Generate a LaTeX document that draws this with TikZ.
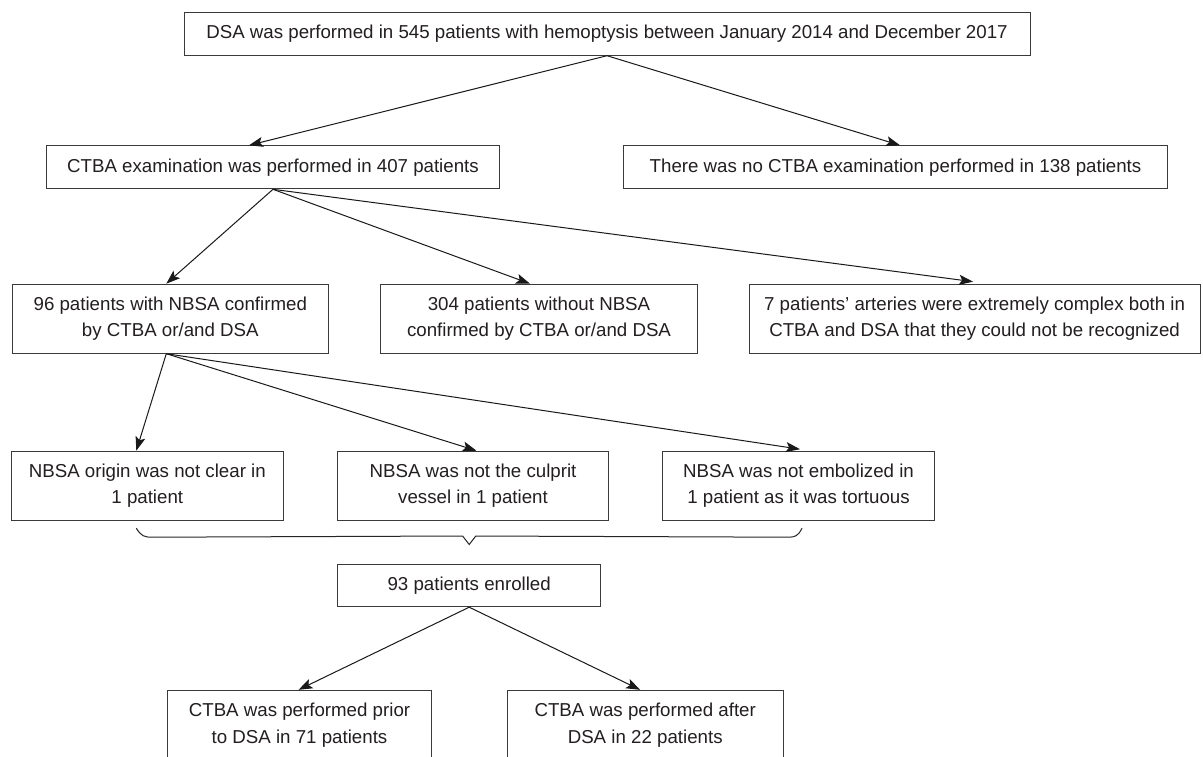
\documentclass[tikz,border=0pt]{standalone}
\usepackage{fontspec}
\setmainfont{Liberation Sans}
\usetikzlibrary{arrows.meta}
\definecolor{txt}{HTML}{231F20}
\definecolor{bord}{HTML}{3A3A3A}
\begin{document}
\begin{tikzpicture}[x=1pt,y=-1pt,
  box/.style={draw=bord,line width=1pt,inner sep=0pt,align=center,text=txt,
    font=\fontsize{18.7}{26.9}\selectfont},
  onebox/.style={box,minimum height=43pt},
  twobox/.style={box,minimum height=69pt},
  arr/.style={draw=black!90,line width=1pt,-{Stealth[length=14pt,width=10pt,inset=3pt]}},
  brace/.style={draw=black!85,line width=1pt}]
\useasboundingbox (0,0) rectangle (1203,756);
\clip (0,0) rectangle (1203,756);
\fill[white] (0,0) rectangle (1203,756);

\node[onebox,minimum width=846pt] (top) at (607,33.7) {DSA was performed in 545 patients with hemoptysis between January 2014 and December 2017};
\node[onebox,minimum width=453pt] (ctba) at (273,167.3) {CTBA examination was performed in 407 patients};
\node[onebox,minimum width=543.5pt] (noctba) at (895.5,167.3) {There was no CTBA examination performed in 138 patients};

\node[twobox,minimum width=316pt] (n96) at (170.3,318.7) {96 patients with NBSA confirmed\\by CTBA or/and DSA};
\node[twobox,minimum width=316.5pt] (n304) at (539,318.7) {304 patients without NBSA\\confirmed by CTBA or/and DSA};
\node[twobox,minimum width=451pt] (n7) at (974.6,318.7) {7 patients’ arteries were extremely complex both in\\CTBA and DSA that they could not be recognized};

\node[twobox,minimum width=271.7pt] (orig) at (147.3,485.7) {NBSA origin was not clear in\\1 patient};
\node[twobox,minimum width=271pt] (culp) at (473,485.7) {NBSA was not the culprit\\vessel in 1 patient};
\node[twobox,minimum width=271.5pt] (emb) at (798.5,485.7) {NBSA was not embolized in\\1 patient as it was tortuous};

\node[box,minimum width=263.5pt,minimum height=42.4pt] (enr) at (469.2,585.5) {93 patients enrolled};

\node[twobox,minimum width=264.4pt] (prior) at (299.5,724.8) {CTBA was performed prior\\to DSA in 71 patients};
\node[twobox,minimum width=275.7pt] (after) at (645.2,724.8) {CTBA was performed after\\DSA in 22 patients};

% connectors
\draw[arr] (top.south) -- ([xshift=-24pt]ctba.north);
\draw[arr] (top.south) -- ([xshift=4.5pt]noctba.north);

\draw[arr] (ctba.south) -- ([xshift=-4pt]n96.north);
\draw[arr] (ctba.south) -- ([xshift=-9pt]n304.north);
\draw[arr] (ctba.south) -- ([xshift=-1.5pt,yshift=2pt]n7.north);

\draw[arr] ([xshift=-4pt]n96.south) -- ([xshift=-11pt]orig.north);
\draw[arr] ([xshift=-4pt]n96.south) -- ([xshift=3.5pt]culp.north);
\draw[arr] ([xshift=-4pt]n96.south) -- ([xshift=1.5pt,yshift=1.5pt]emb.north);

\draw[arr] (enr.south) -- ([xshift=-1pt]prior.north);
\draw[arr] (enr.south) -- ([xshift=-5pt]after.north);

% brace
\coordinate (bl) at ([xshift=-11pt,yshift=-7.5pt]orig.south);
\coordinate (br) at ([xshift=3.5pt,yshift=-7.5pt]emb.south);
\coordinate (bt) at ([yshift=19.3pt]enr.north);
\draw[brace] (bl) .. controls ([xshift=5pt,yshift=-8pt]bl) and ([xshift=8pt,yshift=-9pt]bl) .. ([xshift=16pt,yshift=-9pt]bl)
  -- ([xshift=-6.6pt,yshift=8.5pt]bt) -- (bt) -- ([xshift=6.6pt,yshift=8.5pt]bt)
  -- ([xshift=-14pt,yshift=-9pt]br) .. controls ([xshift=-7pt,yshift=-9pt]br) and ([xshift=-4pt,yshift=-8pt]br) .. (br);
\end{tikzpicture}
\end{document}
